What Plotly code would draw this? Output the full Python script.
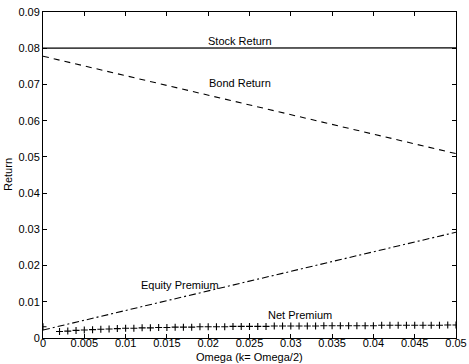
import plotly.graph_objects as go

omega = [0.000, 0.005, 0.010, 0.015, 0.020, 0.025, 0.030, 0.035, 0.040, 0.045, 0.050]
stock_return = [0.0800, 0.0800, 0.0800, 0.0800, 0.0800, 0.0801, 0.0801, 0.0801, 0.0801, 0.0801, 0.0801]
bond_return = [0.0778, 0.0751, 0.0724, 0.0697, 0.0670, 0.0643, 0.0616, 0.0589, 0.0562, 0.0535, 0.0509]
equity_premium = [s - b for s, b in zip(stock_return, bond_return)]

net_omega = [0.000] + [i / 1000 for i in range(2, 51)]
net_premium = [0.0031, 0.0018, 0.0019, 0.0021, 0.0022, 0.0023, 0.0024, 0.0025, 0.0026, 0.0027,
               0.0027, 0.0028, 0.0028, 0.0029, 0.0029, 0.0030, 0.0030, 0.0030, 0.0031, 0.0031,
               0.0031, 0.0031, 0.0032, 0.0032, 0.0032, 0.0032, 0.0032, 0.0033, 0.0033, 0.0033,
               0.0033, 0.0033, 0.0033, 0.0034, 0.0034, 0.0034, 0.0034, 0.0034, 0.0034, 0.0034,
               0.0035, 0.0035, 0.0035, 0.0035, 0.0035, 0.0035, 0.0035, 0.0035, 0.0036, 0.0036]

x_ticks = [0, 0.005, 0.01, 0.015, 0.02, 0.025, 0.03, 0.035, 0.04, 0.045, 0.05]
x_tick_labels = ["0", "0.005", "0.01", "0.015", "0.02", "0.025", "0.03", "0.035", "0.04", "0.045", "0.05"]
y_ticks = [0, 0.01, 0.02, 0.03, 0.04, 0.05, 0.06, 0.07, 0.08, 0.09]
y_tick_labels = ["0", "0.01", "0.02", "0.03", "0.04", "0.05", "0.06", "0.07", "0.08", "0.09"]

labels = [("Stock Return", 0.0238, 0.0820), ("Bond Return", 0.0238, 0.0704),
          ("Equity Premium", 0.0166, 0.0146), ("Net Premium", 0.0311, 0.0064)]

FONT = "Liberation Sans, Arial, sans-serif"
fig = go.Figure()
fig.add_trace(go.Scatter(x=omega, y=stock_return, mode="lines", line=dict(color="black", width=1.3)))
fig.add_trace(go.Scatter(x=omega, y=bond_return, mode="lines", line=dict(color="black", width=1.1, dash="6px,5px")))
fig.add_trace(go.Scatter(x=omega, y=equity_premium, mode="lines", line=dict(color="black", width=1.1, dash="7px,3px,2px,3px")))
fig.add_trace(go.Scatter(x=net_omega, y=net_premium, mode="markers",
                         marker=dict(symbol="cross-thin", size=5, line=dict(color="black", width=1.1))))

for text, x, y in labels:
    fig.add_annotation(x=x, y=y, text=text, showarrow=False, font=dict(family=FONT, size=11, color="black"))

fig.add_annotation(x=0.5, y=0, xref="paper", yref="paper", yshift=-19, yanchor="middle",
                   text="Omega (k= Omega/2)", showarrow=False, font=dict(family=FONT, size=11, color="black"))
fig.add_annotation(x=0, y=0.5, xref="paper", yref="paper", xshift=-35, xanchor="center",
                   text="Return", textangle=-90, showarrow=False, font=dict(family=FONT, size=11, color="black"))

axis_common = dict(showgrid=False, zeroline=False, showline=True, linecolor="black", linewidth=1,
                   mirror="ticks", ticks="inside", ticklen=4, tickcolor="black", automargin=False,
                   tickfont=dict(family=FONT, size=11, color="black"))
fig.update_xaxes(range=[0, 0.05], tickvals=x_ticks, ticktext=x_tick_labels, ticklabelstandoff=-5, **axis_common)
fig.update_yaxes(range=[0, 0.09], tickvals=y_ticks, ticktext=y_tick_labels, **axis_common)
fig.update_layout(width=469, height=364, margin=dict(l=43, r=13, t=12, b=26),
                  showlegend=False, plot_bgcolor="white", paper_bgcolor="white")
fig.write_html("out.html")
